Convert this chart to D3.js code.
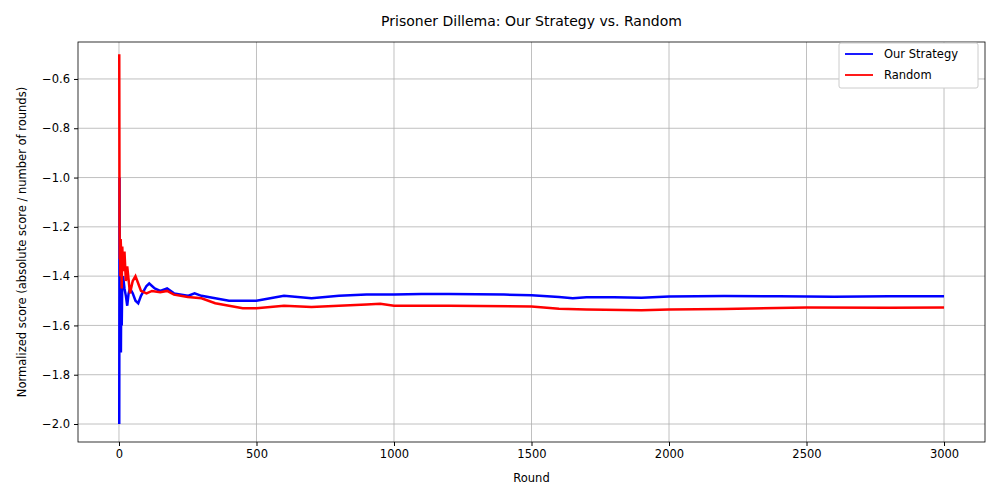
<!DOCTYPE html><html><head><meta charset="utf-8"><script src="https://cdn.jsdelivr.net/npm/d3@7"></script>
<style>body{margin:0;background:#fff}text{font-family:"DejaVu Sans",sans-serif}</style></head><body><svg id="c" width="1000" height="500"></svg>
<script>
const ourRounds=[1,2,3,4,5,6,7,8,10,12,15,20,25,30,35,40,50,60,70,80,90,100,110,130,150,175,200,250,275,300,350,400,450,500,550,600,700,800,900,1000,1100,1200,1300,1400,1500,1600,1650,1700,1800,1900,2000,2200,2400,2600,2800,3000];
const ourScores=[-2.0,-1.0,-1.67,-1.25,-1.6,-1.33,-1.71,-1.5,-1.6,-1.42,-1.4,-1.45,-1.48,-1.52,-1.47,-1.45,-1.47,-1.5,-1.51,-1.48,-1.46,-1.44,-1.43,-1.45,-1.46,-1.45,-1.47,-1.48,-1.47,-1.48,-1.49,-1.5,-1.5,-1.5,-1.49,-1.48,-1.49,-1.48,-1.475,-1.475,-1.472,-1.472,-1.473,-1.475,-1.478,-1.485,-1.49,-1.486,-1.486,-1.488,-1.483,-1.481,-1.482,-1.484,-1.482,-1.482];
const randRounds=[1,2,3,4,5,6,8,10,12,15,20,25,30,40,50,60,70,80,100,120,150,175,200,250,300,350,400,450,500,600,700,800,900,950,1000,1200,1500,1600,1700,1900,2000,2200,2500,2800,3000];
const randScores=[-0.5,-1.17,-1.33,-1.25,-1.4,-1.25,-1.3,-1.45,-1.28,-1.38,-1.3,-1.42,-1.36,-1.47,-1.42,-1.40,-1.43,-1.46,-1.47,-1.46,-1.465,-1.46,-1.475,-1.485,-1.49,-1.51,-1.52,-1.53,-1.53,-1.52,-1.525,-1.52,-1.515,-1.512,-1.52,-1.52,-1.523,-1.532,-1.535,-1.538,-1.535,-1.533,-1.527,-1.528,-1.527];
const xTicks=[0,500,1000,1500,2000,2500,3000];
const yTicks=[-2.0,-1.8,-1.6,-1.4,-1.2,-1.0,-0.8,-0.6];
const svg=d3.select("#c");
const L=78,R=985,T=42,B=442;
const x=d3.scaleLinear().domain([-149,3149]).range([L,R]);
const y=d3.scaleLinear().domain([-2.073,-0.45]).range([B,T]);
const g=svg.append("g");
g.selectAll(".vx").data(xTicks).join("line").attr("x1",d=>x(d)).attr("x2",d=>x(d)).attr("y1",T).attr("y2",B).attr("stroke","#b0b0b0").attr("stroke-width",0.8);
g.selectAll(".hy").data(yTicks).join("line").attr("y1",d=>y(d)).attr("y2",d=>y(d)).attr("x1",L).attr("x2",R).attr("stroke","#b0b0b0").attr("stroke-width",0.8);
const line=d3.line().x(d=>x(d[0])).y(d=>y(d[1]));
svg.append("path").datum(ourRounds.map((r,i)=>[r,ourScores[i]])).attr("d",line).attr("fill","none").attr("stroke","blue").attr("stroke-width",2.5);
svg.append("path").datum(randRounds.map((r,i)=>[r,randScores[i]])).attr("d",line).attr("fill","none").attr("stroke","red").attr("stroke-width",2.5);
svg.append("g").attr("transform",`translate(0,${B})`).call(d3.axisBottom(x).tickValues(xTicks).tickFormat(d3.format("d")).tickSize(4).tickPadding(4)).call(a=>a.select(".domain").remove()).selectAll("text").attr("font-size",11.5).attr("fill","#000");
svg.append("g").attr("transform",`translate(${L},0)`).call(d3.axisLeft(y).tickValues(yTicks).tickFormat(d=>d.toFixed(1).replace("-","\u2212")).tickSize(4).tickPadding(4)).call(a=>a.select(".domain").remove()).selectAll("text").attr("font-size",11.5).attr("fill","#000");
svg.append("rect").attr("x",L).attr("y",T).attr("width",R-L).attr("height",B-T).attr("fill","none").attr("stroke","#000").attr("stroke-width",0.8);
svg.append("text").attr("x",(L+R)/2).attr("y",26).attr("text-anchor","middle").attr("font-size",14).text("Prisoner Dillema: Our Strategy vs. Random");
svg.append("text").attr("x",(L+R)/2).attr("y",482).attr("text-anchor","middle").attr("font-size",11.5).text("Round");
svg.append("text").attr("transform",`translate(26,${(T+B)/2}) rotate(-90)`).attr("text-anchor","middle").attr("font-size",11.5).text("Normalized score (absolute score / number of rounds)");
const lg=svg.append("g").attr("transform","translate(839,43)");
lg.append("rect").attr("width",139).attr("height",45).attr("rx",2).attr("fill","#fff").attr("stroke","#ccc");
[["Our Strategy","blue"],["Random","red"]].forEach((s,i)=>{lg.append("line").attr("x1",6).attr("x2",34).attr("y1",11+i*21).attr("y2",11+i*21).attr("stroke",s[1]).attr("stroke-width",1.8);lg.append("text").attr("x",45).attr("y",15+i*21).attr("font-size",11.5).text(s[0]);});
</script></body></html>
